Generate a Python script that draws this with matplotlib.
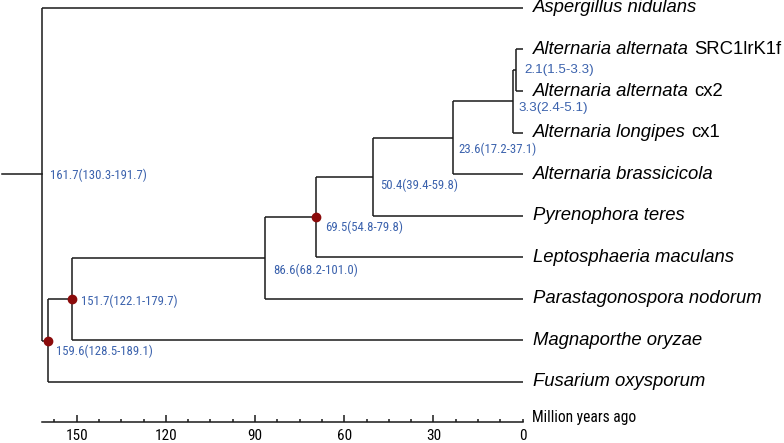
import matplotlib
matplotlib.use("Agg")
import matplotlib.pyplot as plt
from matplotlib.ticker import FixedLocator

# ---------------- data ----------------
taxa_genus = ["Aspergillus nidulans", "Alternaria alternata", "Alternaria alternata",
              "Alternaria longipes", "Alternaria brassicicola", "Pyrenophora teres",
              "Leptosphaeria maculans", "Parastagonospora nodorum", "Magnaporthe oryzae",
              "Fusarium oxysporum"]
taxa_strain = ["", "SRC1lrK1f", "cx2", "cx1", "", "", "", "", "", ""]

# internal nodes: age (Mya), 95% HPD, children (leaf index as int, node as "n<k>")
node_age = [161.7, 159.6, 151.7, 86.6, 69.5, 50.4, 23.6, 3.3, 2.1]
node_low = [130.3, 128.5, 122.1, 68.2, 54.8, 39.4, 17.2, 2.4, 1.5]
node_high = [191.7, 189.1, 179.7, 101.0, 79.8, 59.8, 37.1, 5.1, 3.3]
node_children = [(0, "n1"), ("n2", 9), ("n3", 8), ("n4", 7), ("n5", 6),
                 ("n6", 5), ("n7", 4), ("n8", 3), (1, 2)]
node_marked = [False, True, True, False, True, False, False, False, False]

major_ticks = [150, 120, 90, 60, 30, 0]
axis_label = "Million years ago"

# ---------------- style / layout ----------------
LINE = "#1a1a1a"
BLUE = "#3b62ad"
DOT = "#8b0b0b"
LW = 1.1
stem_start = 175.0
label_offsets = [(8, 1), (8, 11), (9, 2), (8, 12), (9, 10), (7, 9), (6, 12), (6, 7), (8, 0)]
label_regular = [False, False, False, False, False, False, False, True, True]
NARROW = ["Liberation Sans Narrow", "Roboto Condensed", "DejaVu Sans Condensed",
          "Liberation Sans"]
REG = ["Liberation Sans", "DejaVu Sans"]

fig = plt.figure(figsize=(7.84, 4.43), dpi=100)
ax = fig.add_axes([0, 0, 1, 1])
ax.set_xlim(175.8, -87.9)
ax.set_ylim(10.47, -0.19)
renderer = fig.canvas.get_renderer()


def fit_size(artist, target_px):
    """Scale font size so the rendered text width matches target_px."""
    w = artist.get_window_extent(renderer).width
    artist.set_fontsize(artist.get_fontsize() * target_px / w)
    return artist.get_fontsize()


def node_y(ref):
    if isinstance(ref, int):
        return float(ref)
    a, b = node_children[int(ref[1:])]
    return (node_y(a) + node_y(b)) / 2.0


def node_x(ref):
    if isinstance(ref, int):
        return 0.0
    return node_age[int(ref[1:])]


for k, (a, b) in enumerate(node_children):
    x = node_age[k]
    ax.plot([x, x], [node_y(a), node_y(b)], color=LINE, lw=LW,
            solid_capstyle="butt", zorder=2)
    for c in (a, b):
        ax.plot([x, node_x(c)], [node_y(c)] * 2, color=LINE, lw=LW,
                solid_capstyle="butt", zorder=2)

root_y = node_y("n0")
ax.plot([stem_start, node_age[0]], [root_y, root_y], color=LINE, lw=LW, zorder=2)

narrow_labels = []
for k in range(len(node_age)):
    x, y = node_age[k], node_y("n%d" % k)
    if node_marked[k]:
        ax.plot(x, y, "o", color=DOT, ms=6.0, zorder=3)
    lab = "%.1f(%.1f-%.1f)" % (node_age[k], node_low[k], node_high[k])
    dx, dy = label_offsets[k]
    if label_regular[k]:
        fam, fs, st = REG, 9.6, "normal"
    else:
        fam, fs, st = NARROW, 9.5, "condensed"
    a = ax.annotate(lab, xy=(x, y), xytext=(dx, -dy), textcoords="offset pixels",
                    ha="left", va="center", color=BLUE, fontsize=fs, family=fam,
                    fontstretch=st, zorder=4)
    if not label_regular[k]:
        narrow_labels.append(a)

nfs = fit_size(narrow_labels[0], 97)
for a in narrow_labels[1:]:
    a.set_fontsize(nfs)

for i, (g, s) in enumerate(zip(taxa_genus, taxa_strain)):
    t = ax.text(-3.5, i, g, ha="left", va="center", fontsize=13.3,
                style="italic", family=REG, color="black")
    if s:
        ax.annotate(s, xy=(1, 0), xycoords=t, xytext=(4, 0),
                    textcoords="offset points", ha="left", va="bottom",
                    fontsize=13.3, family=REG, color="black")

axis_y = 9.96
for sp in ("top", "left", "right"):
    ax.spines[sp].set_visible(False)
ax.spines["bottom"].set_position(("data", axis_y))
ax.spines["bottom"].set_bounds(0, node_age[0])
ax.spines["bottom"].set_linewidth(LW)
ax.spines["bottom"].set_color(LINE)
ax.yaxis.set_visible(False)
ax.xaxis.set_major_locator(FixedLocator(major_ticks))
ax.xaxis.set_minor_locator(FixedLocator([v * 7.5 for v in range(1, 22) if v % 4 != 0]))

xl = ax.text(-3.1, 9.85, axis_label, ha="left", va="center", fontsize=11.5,
             family=NARROW, fontstretch="condensed", color="black")
fit_size(xl, 104)

ax.tick_params(axis="x", which="major", direction="in", length=5.0, width=LW,
               color=LINE, pad=5, labelsize=11)
ax.tick_params(axis="x", which="minor", direction="in", length=2.4, width=LW, color=LINE)
for lbl in ax.get_xticklabels():
    lbl.set_family(NARROW)
    lbl.set_stretch("condensed")
fig.canvas.draw()
for tk, val in zip(ax.xaxis.get_major_ticks(), major_ticks):
    if val == 0:
        tk.tick1line.set_markersize(2.4)

fig.savefig("out.png", dpi=100)
